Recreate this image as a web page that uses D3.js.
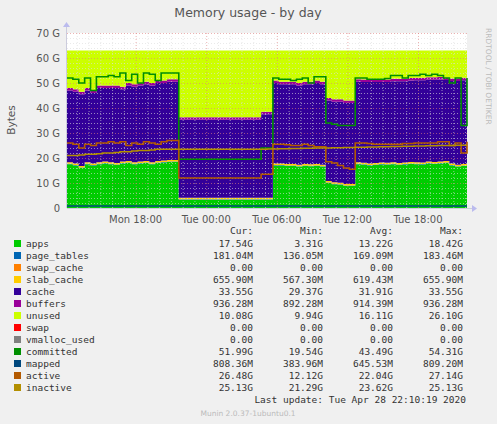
<!DOCTYPE html><html><head><meta charset="utf-8"><script src="https://cdn.jsdelivr.net/npm/d3@7"></script>
<style>body{margin:0;background:#f0f0f0}svg{display:block}</style></head><body><svg id="c" width="497" height="424"></svg><script>
const startHour = 12+10/60; // Mon 12:10
const stepH = 0.5;
const apps=[17.5,17,16,17.5,17,17.5,17.8,17.5,17.2,17.8,18,17.5,17.8,18,17.5,18,18.2,18.4,18.4,
3.3,3.3,3.3,3.3,3.3,3.3,3.3,3.3,3.3,3.3,3.3,3.3,3.3,3.3,3.3,3.3,
17,17,16.8,16.8,16.5,16.8,16.7,16.8,16.5,
10,9.5,9.3,8.8,8.8,
17.5,17.3,17,17.2,17.4,17.3,17.5,17.2,17.4,17.6,17.5,17.4,17.8,17.6,17.8,18,17,16.5,16.8,17.5];
const pageTables=0.18, swapCache=0, slabCache=0.65, buffers=0.93, swap=0, vmallocUsed=0, mapped=0.8;
const cache=[28.7,28.7,28.7,28.7,28.2,29.7,29.4,29.7,30,28.9,30.2,30.2,30.4,30.7,30.7,31.2,31,31.3,31.3,
31.2,31.2,31.2,31.2,31.2,31.2,31.2,31.2,31.2,31.2,31.2,31.2,31.2,31.2,33.4,33.4,
32.2,31.7,31.9,31.9,31.7,31.9,32,32.4,32.2,
32.2,32.2,32.4,32.4,32.4,
32.2,32.3,32.6,32.4,32.2,32.3,32.4,32.7,32.5,32.6,32.8,32.9,32.7,32.9,32.8,32.4,33,33.5,33.5,33.5];
const unused=[15,15.5,16.5,15,16,14,14,14,14,14.5,13,13.5,13,12.5,13,12,12,11.5,11.5,
26.7,26.7,26.7,26.7,26.7,26.7,26.7,26.7,26.7,26.7,26.7,26.7,26.7,26.7,24.5,24.5,
12,12.5,12.5,12.5,13,12.5,12.5,12,12.5,
19,19.5,19.5,20,20,
11.5,11.6,11.6,11.6,11.6,11.6,11.3,11.3,11.3,11.0,10.9,10.9,10.7,10.7,10.6,10.8,11.2,11.2,10.9,10.2];
const committed=[52,51.5,50,52,47,52.5,52.5,53,52.5,54,51,53.5,50,54,53.5,51,54,54,54,
19.5,19.5,19.5,19.5,19.5,19.5,19.5,19.5,19.5,19.5,19.5,19.5,19.5,19.5,24,24,
52,51.5,51.5,51,51.5,52,50,52.5,52.5,
34,33.5,33,33,33,
52,52,51.5,51.5,51.5,51.8,53,53,52,53,53,53.5,53,53.5,53,52,50,52,33,52];
const active=[26,25.5,24,25.5,25,26,26,26.5,26,26.5,25,26,25.5,26.5,26,25.5,26.5,27,27,
12,12,12,12,12,12,12,12,12,12,12,12,12,12,13.5,13.5,
25.5,25.5,25.3,25,25,25.5,25,24.5,24.5,
18.5,18,17,16,15.5,
26,26,25.8,25.5,25.5,25.5,25.5,25.5,25.8,25.8,26,26,26,26,26.5,26.5,25,26,22,26.5];
const inactive=[21,21,21.2,21.5,21.5,21.7,22,22,22.2,22.5,22.5,22.8,23,23,23.2,23.5,23.5,23.5,23.5,
23.5,23.5,23.5,23.5,23.5,23.5,23.5,23.5,23.5,23.5,23.5,23.5,23.5,23.5,23.5,
23.6,23.6,23.7,23.7,23.8,23.8,23.9,23.9,24,24,24,24.1,24.1,24.2,24.2,24.3,24.3,24.4,24.4,24.5,24.5,24.6,24.6,24.7,24.7,24.8,24.8,24.9,24.9,25,25,25,25.1,25.1,25.1];
const yTicks=[0,10,20,30,40,50,60,70];
const xTicks=[{h:18,l:"Mon 18:00"},{h:24,l:"Tue 00:00"},{h:30,l:"Tue 06:00"},{h:36,l:"Tue 12:00"},{h:42,l:"Tue 18:00"}];
const legend=[["apps","#00CC00","17.54G","3.31G","13.22G","18.42G"],["page_tables","#0066B3","181.04M","136.05M","169.09M","183.46M"],["swap_cache","#FF8000","0.00","0.00","0.00","0.00"],["slab_cache","#FFCC00","655.90M","567.30M","619.43M","655.90M"],["cache","#330099","33.55G","29.37G","31.91G","33.55G"],["buffers","#990099","936.28M","892.28M","914.39M","936.28M"],["unused","#CCFF00","10.08G","9.94G","16.11G","26.10G"],["swap","#FF0000","0.00","0.00","0.00","0.00"],["vmalloc_used","#808080","0.00","0.00","0.00","0.00"],["committed","#008F00","51.99G","19.54G","43.49G","54.31G"],["mapped","#00487D","808.36M","383.96M","645.53M","809.20M"],["active","#B35A00","26.48G","12.12G","22.04G","27.14G"],["inactive","#B38F00","25.13G","21.29G","23.62G","25.13G"]];

const svg=d3.select("#c");
const L=67,R=467,T=33,B=208;
const n=apps.length;
const hrs=d3.range(n).map(i=>startHour+i*stepH);
const x=d3.scaleLinear().domain([startHour,startHour+34]).range([L,R]);
const y=d3.scaleLinear().domain([0,70]).range([B,T]);
svg.append("rect").attr("x",L).attr("y",T).attr("width",R-L).attr("height",B-T).attr("fill","#fff");
const rows=d3.range(n).map(i=>({apps:apps[i],page_tables:pageTables,swap_cache:swapCache,slab_cache:slabCache,cache:cache[i],buffers:buffers,unused:unused[i]}));
const keys=["apps","page_tables","swap_cache","slab_cache","cache","buffers","unused"];
const col={};legend.forEach(d=>col[d[0]]=d[1]);
const st=d3.stack().keys(keys)(rows);
const area=d3.area().curve(d3.curveStepAfter).x((d,i)=>x(hrs[i])).y0(d=>y(d[0])).y1(d=>y(d[1]));
svg.append("g").selectAll("path").data(st).join("path").attr("d",area).attr("fill",d=>col[d.key]);
const g=svg.append("g");
d3.range(0,71,2).forEach(v=>{if(v%10)g.append("line").attr("x1",L).attr("x2",R).attr("y1",y(v)+.5).attr("y2",y(v)+.5).attr("stroke","#ddd").attr("stroke-dasharray","1,2").attr("opacity",0.6);});
for(let h=13;h<=46;h++){if(h%6)g.append("line").attr("x1",x(h)+.5).attr("x2",x(h)+.5).attr("y1",T).attr("y2",B).attr("stroke","#ddd").attr("stroke-dasharray","1,2").attr("opacity",0.6);}
yTicks.forEach(v=>g.append("line").attr("x1",L).attr("x2",R).attr("y1",y(v)+.5).attr("y2",y(v)+.5).attr("stroke","#e08080").attr("stroke-dasharray","1,2").attr("opacity",0.6));
xTicks.forEach(t=>g.append("line").attr("x1",x(t.h)+.5).attr("x2",x(t.h)+.5).attr("y1",T).attr("y2",B).attr("stroke","#e08080").attr("stroke-dasharray","1,2").attr("opacity",0.6));
const line=a=>d3.line().curve(d3.curveStepAfter).x((d,i)=>x(hrs[i])).y(d=>y(d))(a);
[[d3.range(n).map(()=>mapped),"#00487D"],[committed,"#008F00"],[active,"#B35A00"],[inactive,"#B38F00"]].forEach(([a,c])=>svg.append("path").attr("d",line(a)).attr("fill","none").attr("stroke",c).attr("stroke-width",1.6));
svg.append("line").attr("x1",L).attr("x2",R+5).attr("y1",B+.5).attr("y2",B+.5).attr("stroke","#ccd").attr("stroke-width",1);
svg.append("line").attr("x1",L-.5).attr("x2",L-.5).attr("y1",B).attr("y2",T-6).attr("stroke","#ccd");
svg.append("path").attr("d",`M${R+5},${B-3}L${R+10},${B+.5}L${R+5},${B+4}Z`).attr("fill","#bbe");
svg.append("path").attr("d",`M${L-4},${T-6}L${L-.5},${T-11}L${L+3},${T-6}Z`).attr("fill","#bbe");
const f="DejaVu Sans, sans-serif";
yTicks.forEach(v=>svg.append("text").attr("x",L-7).attr("y",y(v)+3.5).attr("text-anchor","end").attr("font-family",f).attr("font-size",10).attr("fill","#555").text(v?v+" G":"0"));
xTicks.forEach(t=>svg.append("text").attr("x",x(t.h)).attr("y",B+15).attr("text-anchor","middle").attr("font-family",f).attr("font-size",10).attr("fill","#555").text(t.l));
svg.append("text").attr("x",248).attr("y",17).attr("text-anchor","middle").attr("font-family",f).attr("font-size",12.5).attr("fill","#555").text("Memory usage - by day");
svg.append("text").attr("transform","translate(15,120) rotate(-90)").attr("text-anchor","middle").attr("font-family",f).attr("font-size",10.5).attr("fill","#555").text("Bytes");
svg.append("text").attr("transform","translate(486,28) rotate(90)").attr("font-family",f).attr("font-size",7.5).attr("fill","#bbb").text("RRDTOOL / TOBI OETIKER");
const mf="DejaVu Sans Mono, monospace";
const cx=[253,323,393,463];
["Cur:","Min:","Avg:","Max:"].forEach((h,i)=>svg.append("text").attr("x",cx[i]).attr("y",234).attr("text-anchor","end").attr("font-family",mf).attr("font-size",9.5).attr("fill","#333").text(h));
legend.forEach((d,r)=>{const yy=247+r*12;
svg.append("rect").attr("x",14).attr("y",yy-7).attr("width",7).attr("height",7).attr("fill",d[1]);
svg.append("text").attr("x",26).attr("y",yy).attr("font-family",mf).attr("font-size",9.5).attr("fill","#333").text(d[0]);
for(let i=0;i<4;i++)svg.append("text").attr("x",cx[i]).attr("y",yy).attr("text-anchor","end").attr("font-family",mf).attr("font-size",9.5).attr("fill","#333").text(d[2+i]);});
svg.append("text").attr("x",466).attr("y",403).attr("text-anchor","end").attr("font-family",mf).attr("font-size",9.5).attr("fill","#333").text("Last update: Tue Apr 28 22:10:19 2020");
svg.append("text").attr("x",248).attr("y",416).attr("text-anchor","middle").attr("font-family",f).attr("font-size",7.5).attr("fill","#bbb").text("Munin 2.0.37-1ubuntu0.1");
</script></body></html>
